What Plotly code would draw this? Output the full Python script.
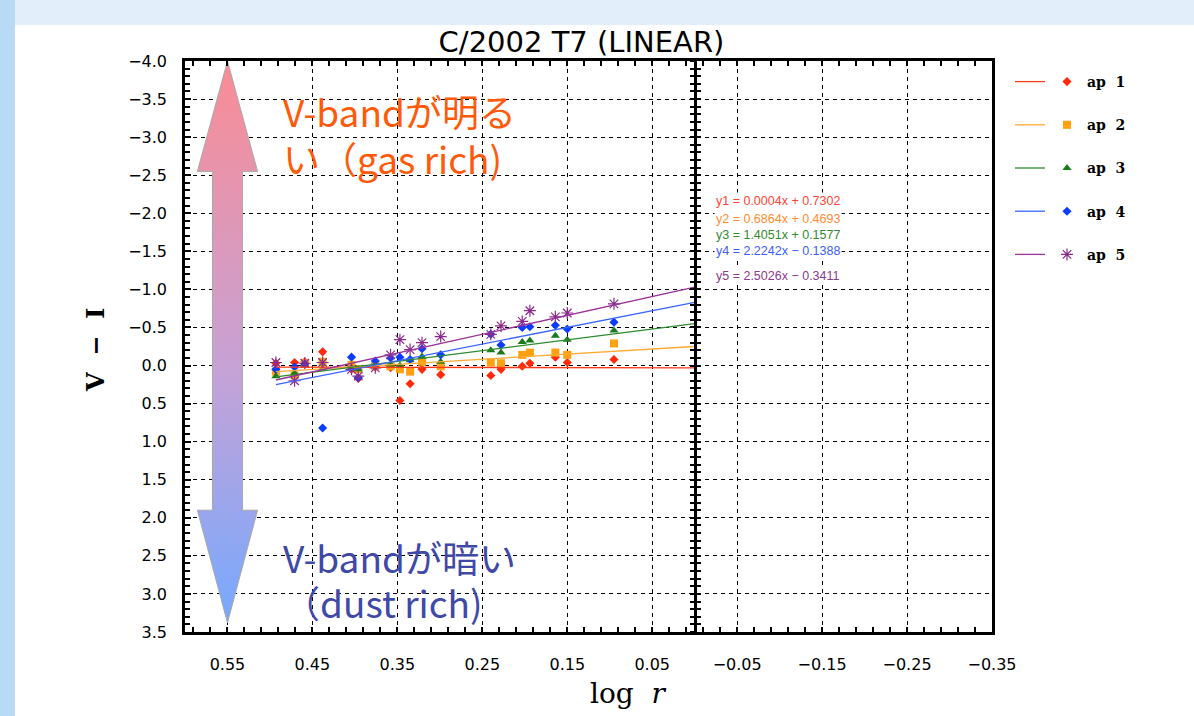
import plotly.graph_objects as go

# ---------------- data ----------------
log_r = [0.493, 0.471, 0.459, 0.438, 0.404, 0.396, 0.376, 0.358, 0.347, 0.335,
         0.321, 0.299, 0.240, 0.228, 0.203, 0.194, 0.164, 0.150, 0.095]

ap1 = [-0.03, -0.04, -0.05, -0.18, 0.05, 0.17, 0.02, 0.03, 0.46, 0.24,
       0.05, 0.12, 0.13, 0.05, 0.01, -0.03, -0.11, -0.04, -0.08]
ap2 = [0.08, 0.13, -0.03, -0.05, -0.01, 0.05, 0.01, 0.01, 0.05, 0.08,
       -0.05, 0.01, -0.04, -0.03, -0.14, -0.17, -0.17, -0.14, -0.29]
ap3 = [0.14, 0.10, 0.00, 0.04, 0.03, 0.05, 0.00, -0.01, 0.00, -0.07,
       -0.12, -0.05, -0.20, -0.17, -0.31, -0.33, -0.39, -0.34, -0.46]
ap4 = [0.05, 0.02, -0.02, 0.82, -0.11, 0.16, -0.06, -0.10, -0.11, -0.08,
       -0.22, -0.14, -0.41, -0.27, -0.50, -0.51, -0.53, -0.48, -0.57]
ap5 = [-0.04, 0.20, -0.03, -0.04, 0.05, 0.14, 0.03, -0.14, -0.34, -0.21,
       -0.30, -0.38, -0.41, -0.52, -0.58, -0.72, -0.64, -0.69, -0.81]

# trend lines: end points (left end, right end at log r = 0)
fit_x = [0.493, 0.0]
fit_ap1 = [0.02, 0.03]
fit_ap2 = [0.08, -0.25]
fit_ap3 = [0.15, -0.55]
fit_ap4 = [0.25, -0.83]
fit_ap5 = [0.19, -1.03]

series_names = ["ap\u00a0\u00a01", "ap\u00a0\u00a02", "ap\u00a0\u00a03", "ap\u00a0\u00a04", "ap\u00a0\u00a05"]
equations = ["y1 = 0.0004x + 0.7302", "y2 = 0.6864x + 0.4693", "y3 = 1.4051x + 0.1577",
             "y4 = 2.2242x − 0.1388", "y5 = 2.5026x − 0.3411"]
equation_y = [-2.16, -1.92, -1.71, -1.50, -1.17]

x_tickvals = [0.55, 0.45, 0.35, 0.25, 0.15, 0.05, -0.05, -0.15, -0.25, -0.35]

title_text = "C/2002 T7 (LINEAR)"
gas_lines = ["V-bandが明る", "い（gas rich)"]
gas_y = [-3.34, -2.73]
dust_lines = ["V-bandが暗い", "（dust rich)"]
dust_y = [2.51, 3.10]

# ---------------- styles ----------------
X_RANGE = [0.6, -0.35]
Y_RANGE = [3.5, -4.0]
W, H = 1194, 716
ML, MR, MT, MB = 185, 202, 61, 84

marker_colors = ["#FF2A0A", "#FFA010", "#187A18", "#0A3CFF", "#8B2B8B"]
line_colors = ["#FF3A1A", "#FFAA30", "#2E8B2E", "#3A66FF", "#993399"]
eq_colors = ["#FF4433", "#FF8C33", "#2E8B2E", "#3D5CFF", "#8B3A8B"]
symbols = ["diamond", "square", "triangle-up", "diamond", "asterisk-open"]
sizes = [7, 8, 8, 7, 10]

series = [ap1, ap2, ap3, ap4, ap5]
fits = [fit_ap1, fit_ap2, fit_ap3, fit_ap4, fit_ap5]

fig = go.Figure()

# big double-headed gradient arrow (decoration)
cx, shaft_hw, head_hw = 0.55, 0.0177, 0.0354
top_tip, top_base, bot_base, bot_tip = -4.0, -2.55, 1.9, 3.38
arrow_x = [cx, cx - head_hw, cx - shaft_hw, cx - shaft_hw, cx - head_hw, cx,
           cx + head_hw, cx + shaft_hw, cx + shaft_hw, cx + head_hw, cx]
arrow_y = [top_tip, top_base, top_base, bot_base, bot_base, bot_tip,
           bot_base, bot_base, top_base, top_base, top_tip]
fig.add_trace(go.Scatter(
    x=arrow_x, y=arrow_y, mode="lines", fill="toself",
    fillgradient=dict(type="vertical",
                      colorscale=[[0, "#76A9FF"], [0.45, "#C6A2D6"], [1, "#FA8C94"]],
                      start=bot_tip, stop=top_tip),
    line=dict(color="#A8A8A8", width=1), hoverinfo="skip", showlegend=False))

# data points
for i in range(5):
    mk = dict(symbol=symbols[i], size=sizes[i], color=marker_colors[i])
    if symbols[i] == "asterisk-open":
        mk["line"] = dict(color=marker_colors[i], width=1.2)
    else:
        mk["line"] = dict(color=marker_colors[i], width=0)
    fig.add_trace(go.Scatter(
        x=log_r, y=series[i], mode="markers", marker=mk, name=series_names[i],
        legend="legend2", legendgroup="m%d" % i))

# trend lines
for i in range(5):
    fig.add_trace(go.Scatter(
        x=fit_x, y=fits[i], mode="lines", line=dict(color=line_colors[i], width=1.3),
        name=" ", legend="legend", legendgroup="f%d" % i, hoverinfo="skip"))

# axes at log r = 0 carrying cross ticks
fig.add_trace(go.Scatter(x=[], y=[], yaxis="y2", showlegend=False))
fig.add_trace(go.Scatter(x=[], y=[], yaxis="y3", showlegend=False))

pos0 = (X_RANGE[0] - 0.0) / (X_RANGE[0] - X_RANGE[1])

grid = dict(showgrid=True, gridcolor="black", gridwidth=1, griddash="4px,4px")
tickfont = dict(family="DejaVu Sans", size=16, color="black")
legfont = dict(family="DejaVu Serif", size=14, color="black", weight="bold")

fig.update_layout(
    width=W, height=H,
    margin=dict(l=ML, r=MR, t=MT, b=MB),
    paper_bgcolor="white", plot_bgcolor="white",
    title=dict(text=title_text, x=(ML + (W - ML - MR) / 2 - 7) / W, xanchor="center",
               y=1 - 42 / H, yanchor="middle",
               font=dict(family="DejaVu Sans", size=29, color="black")),
    xaxis=dict(range=X_RANGE, tickmode="array", tickvals=x_tickvals, tickformat=".2f",
               showline=True, linecolor="black", linewidth=2.5, mirror="ticks",
               ticks="inside", ticklen=5, tickwidth=1.5, tickcolor="black",
               minor=dict(tickmode="linear", tick0=0.05, dtick=0.02, ticks="inside",
                          ticklen=5, tickwidth=1.5, tickcolor="black", showgrid=False),
               zeroline=False, tickfont=tickfont, ticklabelstandoff=16, **grid),
    yaxis=dict(range=Y_RANGE, tick0=0, dtick=0.5, tickformat=".1f",
               showline=True, linecolor="black", linewidth=2.5, mirror=True,
               ticks="inside", ticklen=6, tickwidth=1.5, tickcolor="black",
               minor=dict(dtick=0.1, ticks="inside", ticklen=5, tickwidth=1.5,
                          tickcolor="black", showgrid=False),
               zeroline=False, tickfont=tickfont, ticklabelstandoff=12, **grid),
    yaxis2=dict(overlaying="y", anchor="free", position=pos0, range=Y_RANGE, side="left",
                showline=True, linecolor="black", linewidth=3, ticks="inside", ticklen=4,
                tickwidth=1.5, tickcolor="black", tick0=0, dtick=0.1,
                showticklabels=False, showgrid=False, zeroline=False),
    yaxis3=dict(overlaying="y", anchor="free", position=pos0, range=Y_RANGE, side="left",
                showline=True, linecolor="black", linewidth=3, ticks="outside", ticklen=4,
                tickwidth=1.5, tickcolor="black", tick0=0, dtick=0.1,
                showticklabels=False, showgrid=False, zeroline=False),
    legend=dict(x=(1010 - ML) / (W - ML - MR), y=(H - MB - 66) / (H - MT - MB),
                xanchor="left", yanchor="top", bgcolor="rgba(0,0,0,0)",
                tracegroupgap=22, traceorder="grouped", font=legfont),
    legend2=dict(x=(1047 - ML) / (W - ML - MR), y=(H - MB - 66) / (H - MT - MB),
                 xanchor="left", yanchor="top", bgcolor="rgba(0,0,0,0)",
                 tracegroupgap=22, traceorder="grouped", font=legfont),
    showlegend=True,
)

pw, ph = W - ML - MR, H - MT - MB
# slide background strips
fig.add_shape(type="rect", xref="paper", yref="paper", layer="below",
              x0=-ML / pw, x1=(15 - ML) / pw, y0=-MB / ph, y1=(H - MB) / ph,
              fillcolor="#B9DAF4", line_width=0)
fig.add_shape(type="rect", xref="paper", yref="paper", layer="below",
              x0=(15 - ML) / pw, x1=(W - ML) / pw, y0=(H - MB - 25) / ph, y1=(H - MB) / ph,
              fillcolor="#E2EFFA", line_width=0)

# equations (white label boxes, drawn bottom-up so upper boxes overlap lower ones)
for i in reversed(range(5)):
    fig.add_annotation(x=-0.023, y=equation_y[i], xref="x", yref="y", xanchor="left",
                       yanchor="middle", text=equations[i], showarrow=False,
                       bgcolor="white", borderpad=1,
                       font=dict(family="Liberation Sans", size=12.5, color=eq_colors[i]))

# explanatory texts
for txt, yy in zip(gas_lines, gas_y):
    fig.add_annotation(x=0.487, y=yy, xref="x", yref="y", xanchor="left", yanchor="middle",
                       text=txt, showarrow=False,
                       font=dict(family="Noto Sans CJK JP", size=37, color="#FF5A0A"))
for txt, yy in zip(dust_lines, dust_y):
    fig.add_annotation(x=0.487, y=yy, xref="x", yref="y", xanchor="left", yanchor="middle",
                       text=txt, showarrow=False,
                       font=dict(family="Noto Sans CJK JP", size=37, color="#4048A8"))

# axis titles
fig.add_annotation(x=(95 - ML) / pw, y=(H - MB - 350) / ph, xref="paper", yref="paper",
                   text="V\u00a0\u00a0−\u00a0\u00a0I", textangle=-90, showarrow=False,
                   xanchor="center", yanchor="middle",
                   font=dict(family="DejaVu Serif", size=24, color="black", weight="bold"))
fig.add_annotation(x=(628 - ML) / pw, y=(H - MB - 693) / ph, xref="paper", yref="paper",
                   text="log\u00a0\u00a0<i>r</i>", showarrow=False,
                   xanchor="center", yanchor="middle",
                   font=dict(family="DejaVu Serif", size=28, color="black"))

fig.write_html("out.html")
